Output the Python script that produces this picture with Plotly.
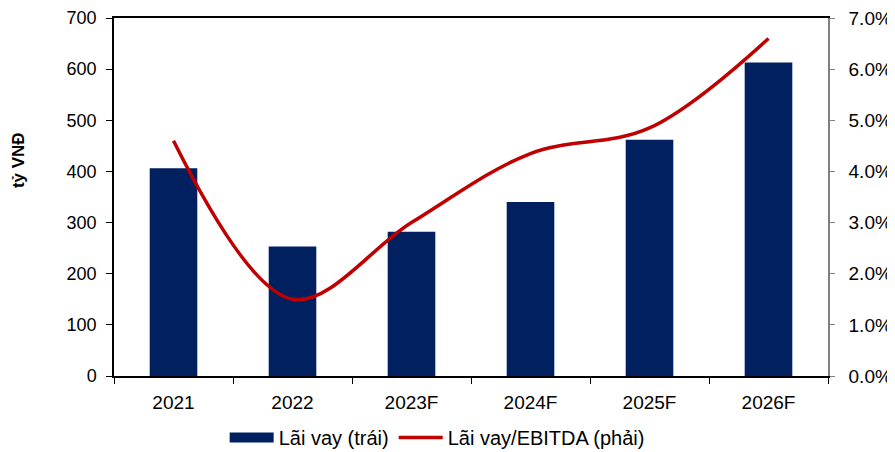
import plotly.graph_objects as go

categories = ["2021", "2022", "2023F", "2024F", "2025F", "2026F"]
interest = [406, 253, 282, 340, 462, 613]          # tỷ VNĐ (left)
ratio = [4.6, 1.5, 3.0, 4.35, 4.85, 6.6]            # % (right)
left_ticks = [0, 100, 200, 300, 400, 500, 600, 700]
right_ticks = [0, 1, 2, 3, 4, 5, 6, 7]
right_labels = [f"{v:.1f}%" for v in right_ticks]

NAVY = "#002060"
RED = "#C00000"
FONT = "Liberation Sans, Arial, sans-serif"

fig = go.Figure()
fig.add_trace(go.Bar(x=categories, y=interest, marker=dict(color=NAVY, line=dict(width=0)),
                     name="Lãi vay (trái)", showlegend=False, yaxis="y"))
# legend proxy for bar (wide rectangle)
fig.add_trace(go.Scatter(x=[None], y=[None], mode="lines", line=dict(color=NAVY, width=10),
                         name="Lãi vay (trái)", showlegend=True, yaxis="y"))
fig.add_trace(go.Scatter(x=categories, y=ratio, mode="lines",
                         line=dict(color=RED, width=3.5, shape="spline", smoothing=1.0),
                         name="Lãi vay/EBITDA (phải)", yaxis="y2"))

# page body has an 8px margin; margins compensate so plot sits at x 114-828, y 18-376
fig.update_layout(
    width=895, height=452,
    margin=dict(l=106, r=75, t=10, b=84),
    paper_bgcolor="white", plot_bgcolor="white",
    font=dict(family=FONT, size=19, color="black"),
    bargap=0.6,
    showlegend=True,
    legend=dict(orientation="h", x=0.155, xanchor="left", xref="paper",
                yref="container", y=0.05, yanchor="middle", itemwidth=44,
                font=dict(size=20), tracegroupgap=0),
    xaxis=dict(type="category", showline=True, linecolor="black", linewidth=1.5,
               mirror=True, ticks="outside", ticklen=6, tickcolor="black",
               tickson="boundaries", showgrid=False, tickfont=dict(size=19),
               automargin=False, ticklabelstandoff=8),
    yaxis=dict(range=[0, 700], tickvals=left_ticks, showline=True, linecolor="black",
               linewidth=1.5, ticks="outside", ticklen=6, tickcolor="black",
               showgrid=False, zeroline=False, ticklabelstandoff=6, automargin=False,
               tickfont=dict(size=18), ticklabeloverflow="allow"),
    yaxis2=dict(range=[0, 7], tickvals=right_ticks, ticktext=right_labels,
                overlaying="y", side="right", showline=True, linecolor="#808080",
                linewidth=1.5, ticks="outside", ticklen=5, tickcolor="#808080",
                showgrid=False, zeroline=False, ticklabelstandoff=10, automargin=False,
                tickfont=dict(size=19), ticklabeloverflow="allow"),
    annotations=[dict(text="<b>tỷ VNĐ</b>", textangle=-90, xref="paper", yref="paper",
                      x=-0.1345, y=0.603, xanchor="center", yanchor="middle",
                      showarrow=False, font=dict(size=17))],
)

fig.write_html("out.html")
